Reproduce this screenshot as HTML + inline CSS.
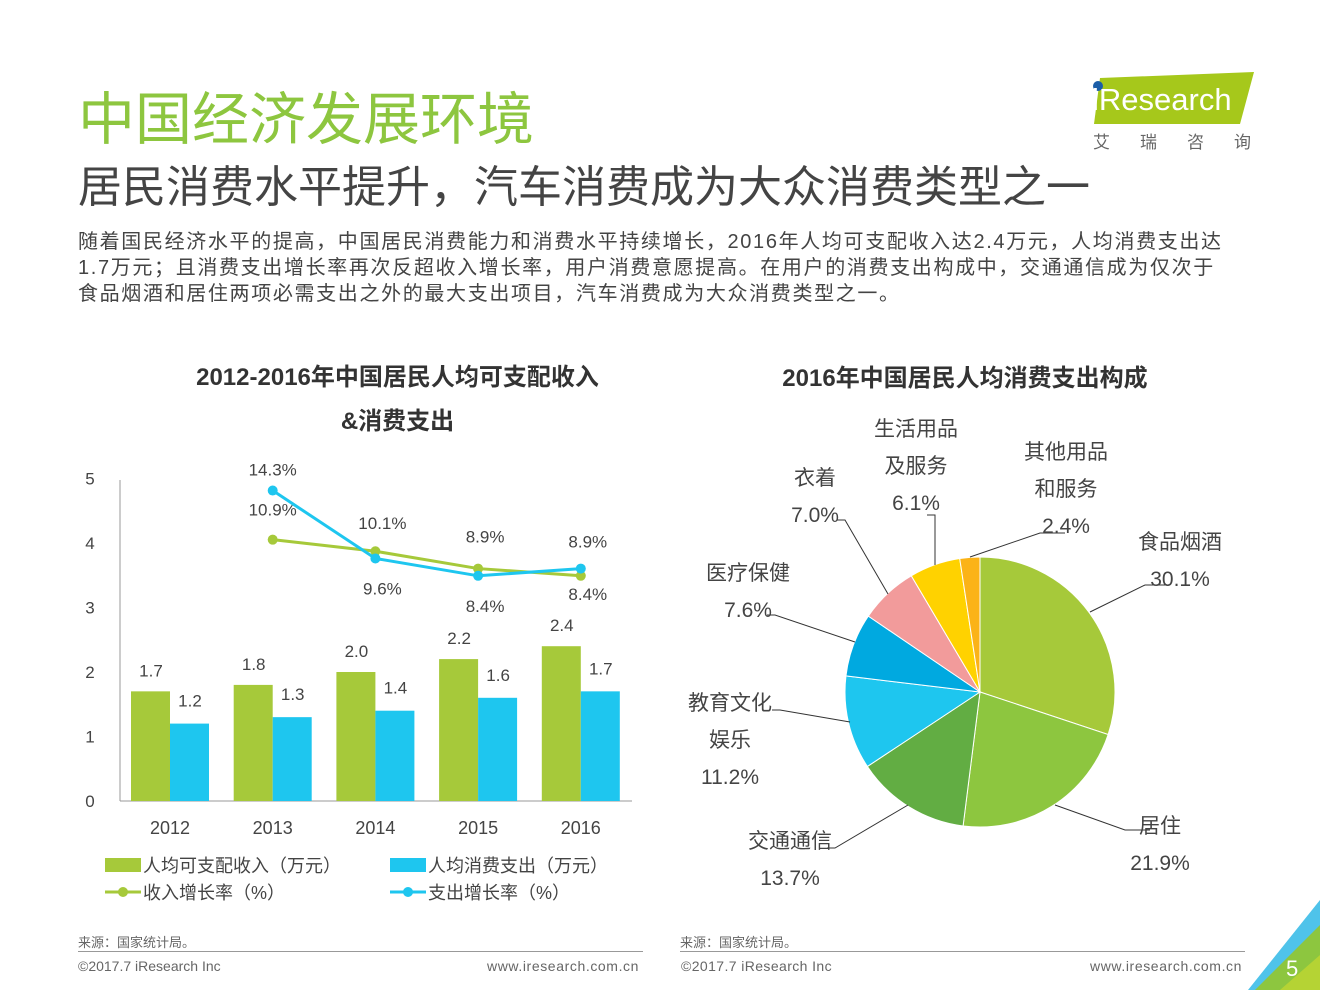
<!DOCTYPE html>
<html><head><meta charset="utf-8"><style>
body{margin:0;width:1320px;height:990px;background:#fff;position:relative;overflow:hidden;font-family:"Liberation Sans","Noto Sans CJK SC",sans-serif;color:#333}
.a{position:absolute;white-space:nowrap}
</style></head><body>
<div class="a" style="left:78px;top:74px;font-size:57px;color:#8dc63f">中国经济发展环境</div>
<div class="a" style="left:78px;top:151px;font-size:44px;color:#444">居民消费水平提升，汽车消费成为大众消费类型之一</div>
<div class="a" style="left:78px;top:229px;font-size:20px;letter-spacing:1.65px;line-height:26px;color:#444">随着国民经济水平的提高，中国居民消费能力和消费水平持续增长，2016年人均可支配收入达2.4万元，人均消费支出达<br>1.7万元；且消费支出增长率再次反超收入增长率，用户消费意愿提高。在用户的消费支出构成中，交通通信成为仅次于<br>食品烟酒和居住两项必需支出之外的最大支出项目，汽车消费成为大众消费类型之一。</div>
<svg class="a" style="left:1090px;top:68px" width="170" height="90">
<polygon points="10,10 164,4 150,56 4,56" fill="#a6c81b"/>
<circle cx="8" cy="18" r="5" fill="#1b5ea8"/>
<text x="2" y="42" font-size="31" fill="#fff" font-family="Liberation Sans">iResearch</text>
<text x="3" y="80" font-size="17" fill="#666" letter-spacing="30">艾瑞咨询</text>
</svg>
<div class="a" style="left:130px;top:356px;width:535px;text-align:center;font-size:24px;font-weight:bold;line-height:44px;color:#333">2012-2016年中国居民人均可支配收入<br>&amp;消费支出</div>
<div class="a" style="left:700px;top:358px;width:530px;text-align:center;font-size:24px;font-weight:bold;color:#333">2016年中国居民人均消费支出构成</div>
<svg id="bar" class="a" style="left:0;top:0" width="660" height="920"></svg>
<svg id="pie" class="a" style="left:660px;top:0" width="660" height="920"></svg>
<div class="a" style="left:78px;top:932px;font-size:13px;color:#666">来源：国家统计局。</div>
<div class="a" style="left:680px;top:932px;font-size:13px;color:#666">来源：国家统计局。</div>
<div class="a" style="left:78px;top:951px;width:565px;border-top:1px solid #999"></div>
<div class="a" style="left:680px;top:951px;width:565px;border-top:1px solid #999"></div>
<div class="a" style="left:78px;top:958px;font-size:14px;color:#666">©2017.7 iResearch Inc</div>
<div class="a" style="left:487px;top:958px;font-size:14px;letter-spacing:0.6px;color:#666">www.iresearch.com.cn</div>
<div class="a" style="left:681px;top:958px;font-size:14px;letter-spacing:0.4px;color:#666">©2017.7 iResearch Inc</div>
<div class="a" style="left:1090px;top:958px;font-size:14px;letter-spacing:0.6px;color:#666">www.iresearch.com.cn</div>
<svg class="a" style="left:1240px;top:900px" width="80" height="90">
<polygon points="80,0 80,40 48,90 8,90" fill="#4fc3ea"/>
<polygon points="80,25 80,90 15,90" fill="#8dc63f"/>
<polygon points="80,55 80,90 40,90" fill="#b5d334"/>
<text x="46" y="76" font-size="22" fill="#fff" font-family="Liberation Sans">5</text>
</svg>
<script>
const NS='http://www.w3.org/2000/svg';
function mk(p,t,a,txt){const e=document.createElementNS(NS,t);for(const k in a)e.setAttribute(k,a[k]);if(txt!==undefined)e.textContent=txt;p.appendChild(e);return e;}
const years=['2012','2013','2014','2015','2016'];
const income=[1.7,1.8,2.0,2.2,2.4];
const spend=[1.2,1.3,1.4,1.6,1.7];
const incomeRate=[null,10.9,10.1,8.9,8.4];
const spendRate=[null,14.3,9.6,8.4,8.9];
const yTicks=[0,1,2,3,4,5];
const bar=document.getElementById('bar');
const y=v=>801-v*64.5;
const yr=r=>801-(1.61+0.224*r)*64.5;
const xc=i=>170+i*102.7;
yTicks.forEach(t=>{const e=mk(bar,'text',{x:90,y:y(t)+6,'font-size':17,'text-anchor':'middle',fill:'#444'},t);
});
mk(bar,'line',{x1:120,y1:480,x2:120,y2:801,stroke:'#999'});
mk(bar,'line',{x1:120,y1:801,x2:632,y2:801,stroke:'#999'});
years.forEach((yy,i)=>{
 const g=mk(bar,'rect',{x:xc(i)-39,y:y(income[i]),width:39,height:801-y(income[i]),fill:'#a6c93a'});
 
 const b=mk(bar,'rect',{x:xc(i),y:y(spend[i]),width:39,height:801-y(spend[i]),fill:'#1ec6ef'});
 
 mk(bar,'text',{x:xc(i)-19,y:y(income[i])-15,'font-size':17,'text-anchor':'middle',fill:'#444'},income[i].toFixed(1));
 mk(bar,'text',{x:xc(i)+20,y:y(spend[i])-17,'font-size':17,'text-anchor':'middle',fill:'#444'},spend[i].toFixed(1));
 const t=mk(bar,'text',{x:xc(i),y:834,'font-size':18,'text-anchor':'middle',fill:'#444'},yy);
 
});
function line(data,col,name,labOff){
 const pts=[];data.forEach((v,i)=>{if(v!=null)pts.push([xc(i),yr(v),v]);});
 const l=mk(bar,'polyline',{points:pts.map(p=>p[0]+','+p[1]).join(' '),fill:'none',stroke:col,'stroke-width':3});
 
 pts.forEach((p,k)=>{mk(bar,'circle',{cx:p[0],cy:p[1],r:5,fill:col});
  mk(bar,'text',{x:p[0]+(k==0?0:7),y:p[1]+labOff[k],'font-size':17,'text-anchor':'middle',fill:'#444'},p[2].toFixed(1)+'%');});
}
line(incomeRate,'#a6c93a','income-growth-line',[-24,-22,-26,24]);
line(spendRate,'#1ec6ef','spend-growth-line',[-15,36,36,-21]);
const leg=[['rect','#a6c93a',105,865,'人均可支配收入（万元）'],['rect','#1ec6ef',390,865,'人均消费支出（万元）'],['line','#a6c93a',105,892,'收入增长率（%）'],['line','#1ec6ef',390,892,'支出增长率（%）']];
leg.forEach(L=>{const g=mk(bar,'g',{});
 if(L[0]=='rect')mk(g,'rect',{x:L[2],y:L[3]-7,width:36,height:14,fill:L[1]});
 else{mk(g,'line',{x1:L[2],y1:L[3],x2:L[2]+36,y2:L[3],stroke:L[1],'stroke-width':3});mk(g,'circle',{cx:L[2]+18,cy:L[3],r:5,fill:L[1]});}
 mk(g,'text',{x:L[2]+38,y:L[3]+7,'font-size':18,fill:'#444'},L[4]);});
// pie
const cats=['食品烟酒','居住','交通通信','教育文化娱乐','医疗保健','衣着','生活用品及服务','其他用品和服务'];
const shares=[30.1,21.9,13.7,11.2,7.6,7.0,6.1,2.4];
const cols=['#a6c93a','#8dc63f','#62ad43','#1ec6ef','#00a9e0','#f29b9b','#ffd200','#fbb317'];
const labels=[[['食品烟酒','30.1%'],1180,541,[1090,612,1145,585]],[['居住','21.9%'],1160,825,[1055,805,1125,830]],[['交通通信','13.7%'],790,840,[908,805,835,848]],[['教育文化','娱乐','11.2%'],730,702,[850,722,780,710]],[['医疗保健','7.6%'],748,572,[855,642,775,615]],[['衣着','7.0%'],815,477,[888,594,845,520]],[['生活用品','及服务','6.1%'],916,428,[935,565,935,515]],[['其他用品','和服务','2.4%'],1066,451,[970,557,1040,533]]];
const pie=document.getElementById('pie');const cx=980-660,cy=692,R=135;
let a0=-Math.PI/2;const tot=shares.reduce((s,v)=>s+v,0);
shares.forEach((v,i)=>{const a1=a0+v/tot*2*Math.PI;
 const p=mk(pie,'path',{d:`M${cx},${cy}L${cx+R*Math.cos(a0)},${cy+R*Math.sin(a0)}A${R},${R} 0 ${a1-a0>Math.PI?1:0} 1 ${cx+R*Math.cos(a1)},${cy+R*Math.sin(a1)}Z`,fill:cols[i],stroke:'#fff','stroke-width':1});
 a0=a1;});
labels.forEach(L=>{const [ls,lx,ly,ln]=L;
 mk(pie,'polyline',{points:`${ln[0]-660},${ln[1]} ${ln[2]-660},${ln[3]} ${ln[2]-660+(ln[2]>1000?25:-8)},${ln[3]}`,fill:'none',stroke:'#333','stroke-width':1});
 ls.forEach((s,k)=>{const t=mk(pie,'text',{x:lx-660,y:ly+k*37+8,'font-size':21,'text-anchor':'middle',fill:'#444'},s);
  });});
</script>
</body></html>
